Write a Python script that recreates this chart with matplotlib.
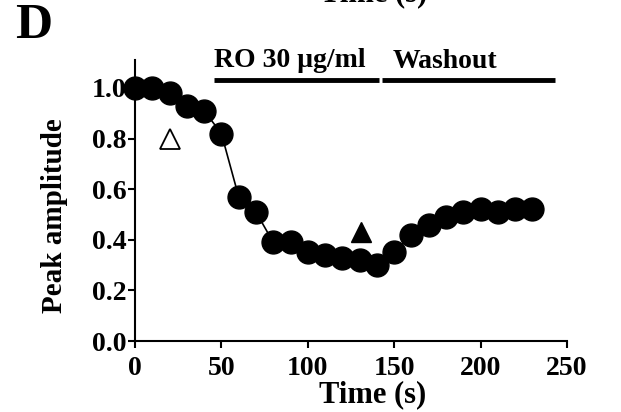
import matplotlib
matplotlib.use("Agg")
import matplotlib.pyplot as plt

plt.rcParams['font.family'] = ['Liberation Serif', 'DejaVu Serif']
plt.rcParams['font.weight'] = 'bold'

# data
time_s = [0, 10, 20, 30, 40, 50, 60, 70, 80, 90, 100, 110, 120, 130, 140,
          150, 160, 170, 180, 190, 200, 210, 220, 230]
peak_amp = [1.00, 1.00, 0.98, 0.93, 0.91, 0.82, 0.57, 0.51, 0.39, 0.39, 0.35,
            0.34, 0.33, 0.32, 0.30, 0.35, 0.42, 0.46, 0.49, 0.51, 0.52, 0.51,
            0.52, 0.52]
open_tri = (20, 0.80)
filled_tri = (131, 0.43)
bar_ro = (46, 141)
bar_wash = (143, 243)
bar_y = 1.03

fig = plt.figure(figsize=(6.21, 4.12), dpi=100)
ax = fig.add_axes([0.2174, 0.1723, 0.913 - 0.2174, 0.854 - 0.1723])

ax.plot(time_s, peak_amp, color='black', lw=1.2, marker='o', ms=16.5,
        mfc='black', mec='black', clip_on=False, zorder=3)
ax.plot(*open_tri, marker='^', ms=14, mfc='white', mec='black', mew=1.3,
        clip_on=False)
ax.plot(*filled_tri, marker='^', ms=14, mfc='black', mec='black',
        clip_on=False)

# treatment bars
ax.plot(bar_ro, [bar_y, bar_y], color='black', lw=3.5, clip_on=False,
        solid_capstyle='butt')
ax.plot(bar_wash, [bar_y, bar_y], color='black', lw=3.5, clip_on=False,
        solid_capstyle='butt')
ax.text(46, bar_y + 0.03, 'RO 30 \u03bcg/ml', fontsize=20, fontweight='bold',
        ha='left', va='bottom')
ax.text(149, bar_y + 0.025, 'Washout', fontsize=20, fontweight='bold',
        ha='left', va='bottom')

ax.set_xlim(0, 250)
ax.set_ylim(0, 1.11)
ax.set_xticks([0, 50, 100, 150, 200, 250])
ax.set_yticks([0.0, 0.2, 0.4, 0.6, 0.8, 1.0])
ax.set_yticklabels(['0.0', '0.2', '0.4', '0.6', '0.8', '1.0'])
ax.spines['top'].set_visible(False)
ax.spines['right'].set_visible(False)
for s in ['left', 'bottom']:
    ax.spines[s].set_linewidth(1.5)
ax.tick_params(direction='out', length=5, width=1.5, labelsize=20)
ax.tick_params(axis='x', pad=6)
ax.tick_params(axis='y', pad=1)
for lab in ax.get_xticklabels() + ax.get_yticklabels():
    lab.set_fontweight('bold')

ax.set_xlabel('Time (s)', fontsize=22, fontweight='bold', va='center')
ax.xaxis.set_label_coords(0.549, -0.192)
ax.set_ylabel('Peak amplitude', fontsize=21, fontweight='bold', va='center')
ax.yaxis.set_label_coords(-0.1875, 0.448)

fig.text(0.024, 0.937, 'D', fontsize=37, fontweight='bold', va='center')
fig.text(0.601, 1.015, 'Time (s)', fontsize=22, fontweight='bold',
         ha='center', va='center')

fig.savefig('out.png', dpi=100)
